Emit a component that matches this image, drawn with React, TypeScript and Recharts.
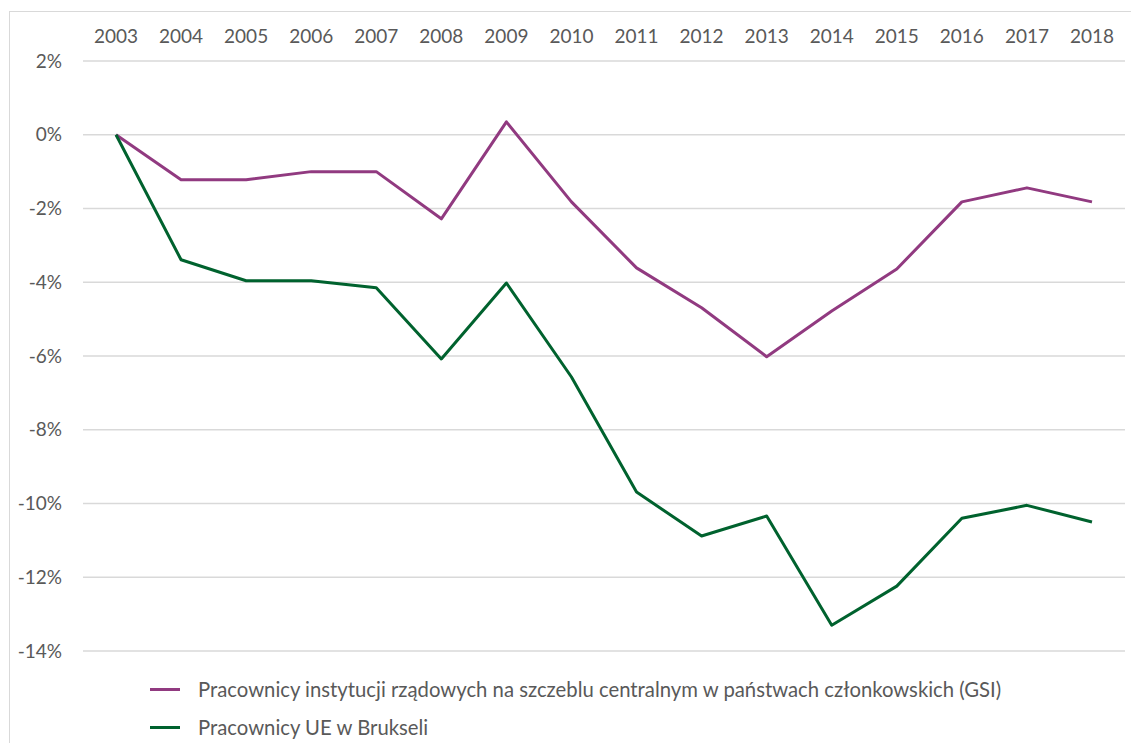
import { CartesianGrid, Legend, Line, LineChart, XAxis, YAxis } from "recharts";

const years = [
  "2003", "2004", "2005", "2006", "2007", "2008", "2009", "2010",
  "2011", "2012", "2013", "2014", "2015", "2016", "2017", "2018",
];

// % change vs 2003
const gsi = [
  0, -1.22, -1.22, -1.0, -1.0, -2.28, 0.35, -1.82,
  -3.61, -4.69, -6.02, -4.78, -3.64, -1.82, -1.44, -1.82,
];
const brussels = [
  0, -3.39, -3.96, -3.96, -4.15, -6.08, -4.02, -6.57,
  -9.69, -10.88, -10.34, -13.3, -12.24, -10.4, -10.05, -10.5,
];

const yTicks = [2, 0, -2, -4, -6, -8, -10, -12, -14];

const GSI_LABEL =
  "Pracownicy instytucji rządowych na szczeblu centralnym w państwach członkowskich (GSI)";
const BXL_LABEL = "Pracownicy UE w Brukseli";

const PURPLE = "#913a80";
const GREEN = "#00622e";
const GRID = "#d9d9d9";
const TEXT = "#595959";
const FONT = "Lato, 'Open Sans', sans-serif";

const data = years.map((year, i) => ({
  year,
  gsi: gsi[i],
  brussels: brussels[i],
}));

function LegendBox() {
  const items = [
    { label: GSI_LABEL, color: PURPLE },
    { label: BXL_LABEL, color: GREEN },
  ];
  return (
    <div style={{ fontFamily: FONT, fontSize: 20.3, color: TEXT }}>
      {items.map((it) => (
        <div
          key={it.label}
          style={{ display: "flex", alignItems: "center", height: 38 }}
        >
          <span
            style={{
              display: "inline-block",
              width: 30,
              height: 3,
              background: it.color,
              marginRight: 18,
            }}
          />
          <span>{it.label}</span>
        </div>
      ))}
    </div>
  );
}

export default function App() {
  return (
    <div
      style={{
        position: "absolute",
        left: 0,
        top: 0,
        width: 1131,
        height: 743,
        overflow: "hidden",
        background: "#fff",
      }}
    >
      <div
        style={{
          position: "absolute",
          left: 9,
          top: 11,
          width: 1200,
          height: 800,
          border: `1px solid ${GRID}`,
        }}
      />
      <div style={{ position: "absolute", left: 0, top: 0 }}>
        {/* legend height (2 x 38) is taken out of the plot, so bottom margin is small */}
        <LineChart
          width={1131}
          height={743}
          data={data}
          margin={{ top: 21, right: 6, bottom: 16, left: 0 }}
        >
          <CartesianGrid vertical={false} stroke={GRID} strokeWidth={1.3} />
          <XAxis
            dataKey="year"
            orientation="top"
            height={40}
            axisLine={false}
            tickLine={false}
            tickSize={0}
            tickMargin={18}
            padding={{ left: 33, right: 33 }}
            interval={0}
            tick={{ fill: TEXT, fontSize: 19, fontFamily: FONT }}
          />
          <YAxis
            type="number"
            domain={[-14, 2]}
            ticks={yTicks}
            width={83}
            axisLine={false}
            tickLine={false}
            tickSize={0}
            tickMargin={21}
            tickFormatter={(v: number) => `${v}%`}
            tick={{ fill: TEXT, fontSize: 19, fontFamily: FONT }}
          />
          <Line
            dataKey="gsi"
            name={GSI_LABEL}
            stroke={PURPLE}
            strokeWidth={3}
            dot={false}
            strokeLinejoin="round"
            isAnimationActive={false}
          />
          <Line
            dataKey="brussels"
            name={BXL_LABEL}
            stroke={GREEN}
            strokeWidth={3}
            dot={false}
            strokeLinejoin="round"
            isAnimationActive={false}
          />
          <Legend
            content={() => <LegendBox />}
            wrapperStyle={{ position: "absolute", left: 150, top: 670, width: 950 }}
          />
        </LineChart>
      </div>
    </div>
  );
}
